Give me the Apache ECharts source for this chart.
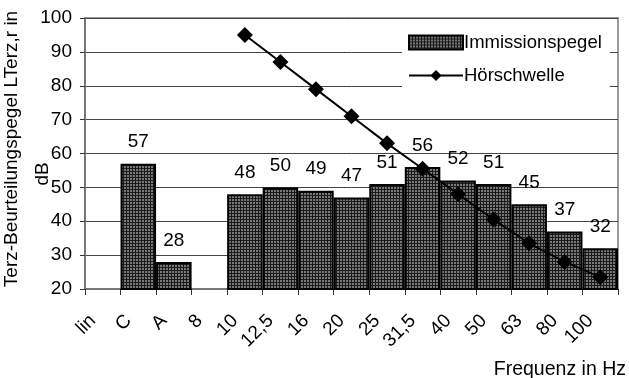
<!DOCTYPE html>
<html>
<head>
<meta charset="utf-8">
<script src="https://cdn.jsdelivr.net/npm/echarts@6/dist/echarts.min.js"></script>
<style>
html,body{margin:0;padding:0;background:#fff;}
#chart{width:629px;height:378px;}
</style>
</head>
<body>
<div id="chart"></div>
<script>
var categories = ['lin', 'C', 'A', '8', '10', '12,5', '16', '20', '25', '31,5', '40', '50', '63', '80', '100'];
var immissionspegel = [null, 57, 28, null, 48, 50, 49, 47, 51, 56, 52, 51, 45, 37, 32];
var hoerschwelle = [null, null, null, null, 95, 87, 79, 71, 63, 55.5, 48, 40.5, 33.5, 28, 23.5];
var yTicks = {min: 20, max: 100, interval: 10};
var seriesNames = ['Immissionspegel', 'Hörschwelle'];
var yTitle = ['Terz-Beurteilungspegel LTerz,r in', 'dB'];
var xTitle = 'Frequenz in Hz';

var FONT = 'Liberation Sans, Arial, Helvetica, sans-serif';

// hatched fill pattern
var pc = document.createElement('canvas');
pc.width = 3; pc.height = 3;
var pctx = pc.getContext('2d');
pctx.fillStyle = '#787878';
pctx.fillRect(0, 0, 3, 3);
pctx.fillStyle = '#1a1a1a';
pctx.fillRect(0, 0, 3, 1);
pctx.fillRect(0, 0, 1, 3);
var pattern = {image: pc, repeat: 'repeat'};

var chart = echarts.init(document.getElementById('chart'), null, {renderer: 'canvas'});
chart.setOption({
  animation: false,
  backgroundColor: '#fff',
  textStyle: {fontFamily: FONT},
  grid: {left: 85, right: 11, top: 18, bottom: 89, show: true, borderColor: '#9a9a9a', borderWidth: 2, backgroundColor: 'transparent'},
  legend: {
    orient: 'vertical',
    left: 402, top: 28,
    itemWidth: 54, itemHeight: 14, itemGap: 14,
    backgroundColor: '#fff',
    padding: [5, 8, 5, 6],
    textStyle: {fontSize: 18.5, color: '#000', fontFamily: FONT, padding: [0, 0, 0, -4]},
    data: [{name: seriesNames[0], icon: 'rect'}, {name: seriesNames[1]}]
  },
  xAxis: {
    type: 'category',
    data: categories,
    boundaryGap: true,
    axisLine: {lineStyle: {color: '#777', width: 2}},
    axisTick: {show: true, length: 6, lineStyle: {color: '#333', width: 1}},
    axisLabel: {rotate: 45, fontSize: 19, color: '#000', margin: 19, padding: [0, 14, 0, 0], interval: 0, fontFamily: FONT},
    splitLine: {show: false}
  },
  yAxis: {
    type: 'value',
    min: yTicks.min, max: yTicks.max, interval: yTicks.interval,
    axisLine: {show: true, lineStyle: {color: '#777', width: 2}},
    axisTick: {show: true, length: 5, lineStyle: {color: '#333', width: 1}},
    axisLabel: {fontSize: 19, color: '#000', margin: 13, fontFamily: FONT},
    splitLine: {show: true, lineStyle: {color: '#444', width: 1}}
  },
  graphic: [
    {type: 'text', x: 12, y: 149, rotation: Math.PI / 2, style: {text: yTitle[0], font: '19px ' + FONT, fill: '#000', align: 'center', verticalAlign: 'middle'}},
    {type: 'text', x: 43, y: 174, rotation: Math.PI / 2, style: {text: yTitle[1], font: '19px ' + FONT, fill: '#000', align: 'center', verticalAlign: 'middle'}},
    {type: 'text', right: 3, top: 360, style: {text: xTitle, font: '19.5px ' + FONT, fill: '#000'}}
  ],
  series: [
    {
      name: seriesNames[0],
      type: 'bar',
      data: immissionspegel,
      barCategoryGap: '0%',
      itemStyle: {color: pattern, borderColor: '#000', borderWidth: 2},
      label: {show: true, position: 'top', distance: 12, fontSize: 19, color: '#000', fontFamily: FONT},
      z: 2
    },
    {
      name: seriesNames[1],
      type: 'line',
      data: hoerschwelle,
      symbol: 'diamond',
      symbolSize: 16,
      lineStyle: {color: '#000', width: 2},
      itemStyle: {color: '#000'},
      z: 3
    }
  ]
});
</script>
</body>
</html>
